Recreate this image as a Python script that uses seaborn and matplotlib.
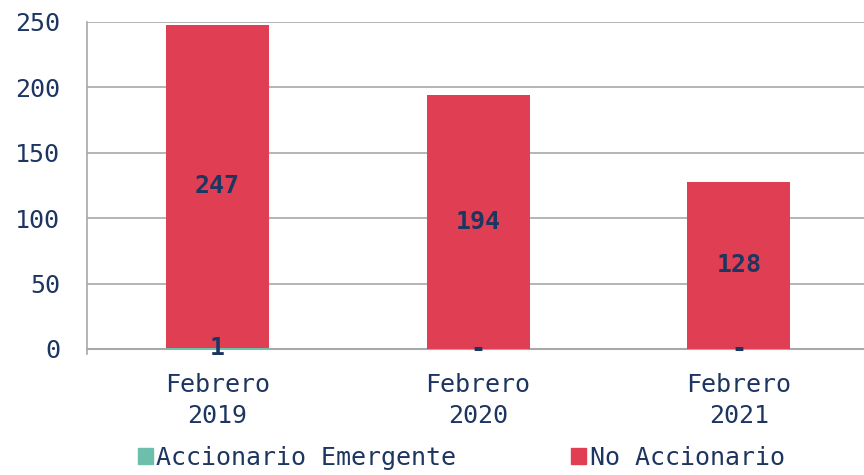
import matplotlib
matplotlib.use('Agg')
import matplotlib.pyplot as plt
from matplotlib.patches import Patch
import seaborn as sns
import pandas as pd

categories = ['Febrero\n2019', 'Febrero\n2020', 'Febrero\n2021']
emergente = [1, 0, 0]
no_accionario = [247, 194, 128]
series_names = ['Accionario Emergente', 'No Accionario']

teal = '#6cbfab'
red = '#e03e53'
navy = '#1d3661'
grid_gray = '#a8a8a8'

sns.set_style('white')
plt.rcParams['font.family'] = ['DejaVu Sans Mono', 'DejaVu Sans']
fs = 18

df = pd.DataFrame({'cat': categories, 'em': emergente, 'no': no_accionario})
df['total'] = df['em'] + df['no']

fig, ax = plt.subplots(figsize=(8.64, 4.75), dpi=100)
fig.subplots_adjust(left=0.1007, right=1.0, top=0.9537, bottom=0.2653)

# stacked: red total first, teal bottom segment drawn over it
sns.barplot(data=df, x='cat', y='total', color=red, width=0.395, ax=ax,
            saturation=1, linewidth=0, zorder=3)
sns.barplot(data=df, x='cat', y='em', color=teal, width=0.395, ax=ax,
            saturation=1, linewidth=0, zorder=4)

ax.set_ylim(0, 250)
ax.set_xlim(-0.5, 2.48)
ax.set_yticks([0, 50, 100, 150, 200, 250])
ax.yaxis.grid(True, color=grid_gray, linewidth=1.2, zorder=0)
ax.set_axisbelow(True)
ax.set_xlabel('')
ax.set_ylabel('')

for s in ['top', 'right']:
    ax.spines[s].set_visible(False)
ax.spines['left'].set_color(grid_gray)
ax.spines['left'].set_linewidth(1.2)
ax.spines['left'].set_bounds(-4, 250)
ax.spines['bottom'].set_color(grid_gray)
ax.spines['bottom'].set_linewidth(1.5)

ax.tick_params(axis='y', length=0, pad=19.5, labelsize=fs, labelcolor=navy)
ax.tick_params(axis='x', which='major', length=0, pad=17, labelsize=fs,
               labelcolor=navy)
for t in ax.get_xticklabels():
    t.set_linespacing(1.4)
ax.set_xticks([0.5, 1.5], minor=True)
ax.tick_params(axis='x', which='minor', length=8, width=1.2, color=grid_gray)

# data labels
for i, (e, n) in enumerate(zip(emergente, no_accionario)):
    ax.text(i, e + n / 2, str(n), ha='center', va='center', fontsize=fs,
            fontweight='bold', color=navy, zorder=5)
    lab = str(e) if e else '-'
    ax.text(i, e / 2, lab, ha='center', va='center', fontsize=fs,
            fontweight='bold', color=navy, zorder=5)

handles = [Patch(color=teal), Patch(color=red)]
fig.legend(handles, series_names, loc='center', bbox_to_anchor=(0.534, 0.036),
           ncol=2, frameon=False, fontsize=fs, labelcolor=navy,
           handlelength=0.6, handleheight=0.6, handletextpad=0.15,
           columnspacing=4.6)

plt.savefig('out.png', dpi=100)
